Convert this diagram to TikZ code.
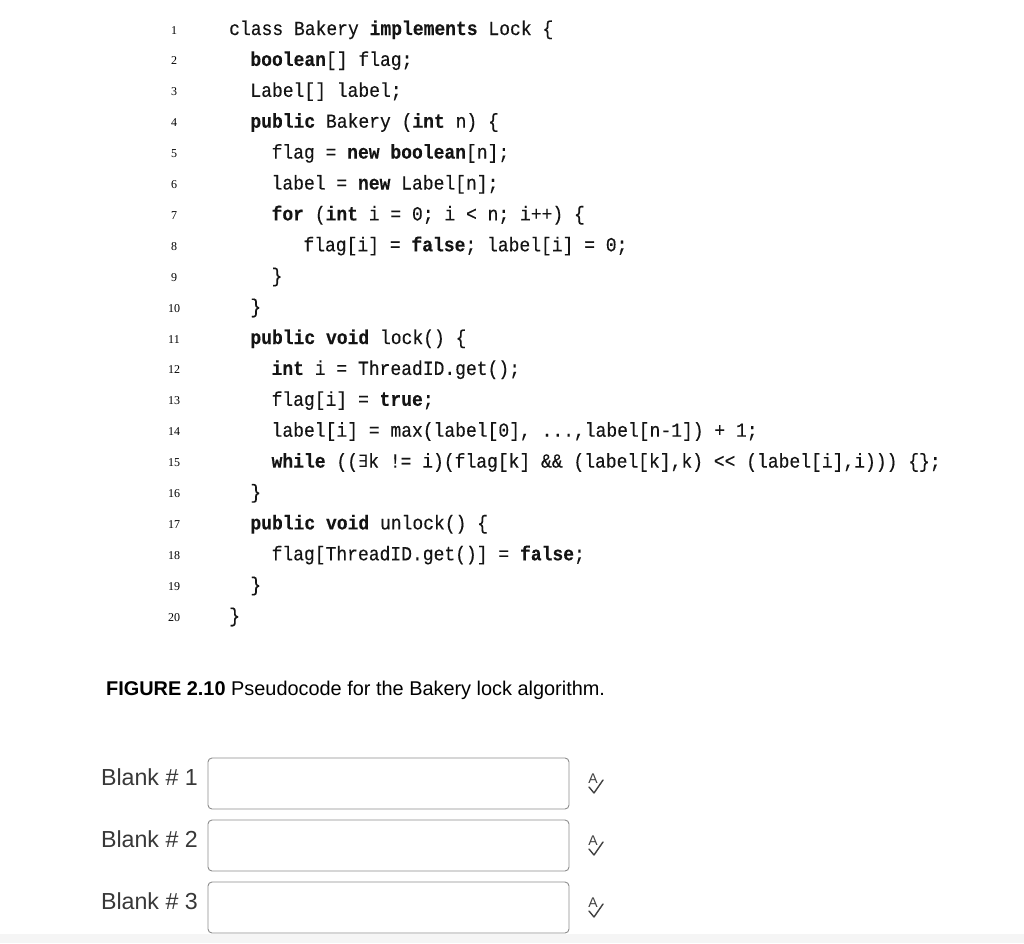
\documentclass[tikz,border=0pt]{standalone}
\usepackage{fontspec}
\setmainfont{Liberation Sans}
\newfontfamily\cmono[FakeStretch=0.9,FakeBold=0.3]{Liberation Mono}
\newfontfamily\dmono{DejaVu Sans Mono}
\newfontfamily\lnum{Liberation Serif}
\begin{document}
\begin{tikzpicture}[x=1pt,y=-1pt,
  code/.style={anchor=base west,inner sep=0pt,font=\cmono\fontsize{20}{22}\selectfont,text=black!92},
  ln/.style={anchor=base,inner sep=0pt,font=\lnum\fontsize{12}{14}\selectfont},
  blank/.style={anchor=base east,inner sep=0pt,font=\fontsize{23.2}{26}\selectfont,text=black!78},
  field/.style={draw=black!45,line width=0.9pt,rounded corners=4pt,fill=white}]
\useasboundingbox (0,0) rectangle (1024,943);
\fill[black!4] (0,934) rectangle (1024,943);
\def\B#1{\textbf{#1}}
\foreach \k/\ind/\txt in {
 1/0/{class Bakery \B{implements} Lock \{},
 2/2/{\B{boolean}[] flag;},
 3/2/{Label[] label;},
 4/2/{\B{public} Bakery (\B{int} n) \{},
 5/4/{flag = \B{new boolean}[n];},
 6/4/{label = \B{new} Label[n];},
 7/4/{\B{for} (\B{int} i = 0; i < n; i++) \{},
 8/7/{flag[i] = \B{false}; label[i] = 0;},
 9/4/{\}},
 10/2/{\}},
 11/2/{\B{public void} lock() \{},
 12/4/{\B{int} i = ThreadID.get();},
 13/4/{flag[i] = \B{true};},
 14/4/{label[i] = max(label[0], ...,label[n-1]) + 1;},
 15/4/{\B{while} (({\dmono\fontsize{17}{20}\selectfont ∃}k != i)(flag[k] \&\& (label[k],k) << (label[i],i))) \{\};},
 16/2/{\}},
 17/2/{\B{public void} unlock() \{},
 18/4/{flag[ThreadID.get()] = \B{false};},
 19/2/{\}},
 20/0/{\}}}
{
  \node[code] (c\k) at ({229+\ind*10.6},{35+(\k-1)*30.9}) {\txt};
  \node[ln] (n\k) at (174,{34+(\k-1)*30.9}) {\k};
}
\node[anchor=base west,inner sep=0pt,font=\fontsize{19.9}{22}\selectfont] (cap) at (106,695)
  {\textbf{FIGURE 2.10}\ Pseudocode for the Bakery lock algorithm.};
\foreach \i/\y in {1/758,2/820,3/882}{
  \node[blank] (b\i) at (198,{\y+27}) {Blank \# \i};
  \draw[field] (208,\y) rectangle (569,{\y+51});
  \node[inner sep=0pt,font=\fontsize{14}{14}\selectfont,text=black!75] (ic\i) at (593,{\y+21}) {A};
  \draw[black!75,line width=1.4pt,line cap=round,line join=round] (589,{\y+29}) -- (594,{\y+35}) -- (603,{\y+22});
}
\end{tikzpicture}
\end{document}
